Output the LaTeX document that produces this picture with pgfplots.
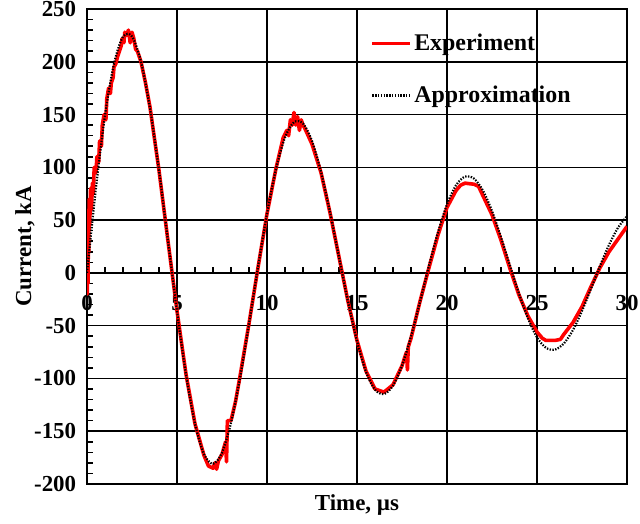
\documentclass[border=0pt]{standalone}
\usepackage{fontspec}
\setmainfont{Liberation Serif}
\usepackage{pgfplots}
\pgfplotsset{compat=1.18}
\begin{document}
\fontsize{23}{27}\selectfont\bfseries
\begin{tikzpicture}
\begin{axis}[
  name=main,
  scale only axis, width=540bp, height=475bp,
  xmin=0, xmax=30, ymin=-200, ymax=250,
  xtick={0,5,...,30}, xticklabels={},
  ytick={-200,-150,-100,-50,0,50,100,150,200,250},
  yticklabels={-200,-150,-100,-50,0,50,100,150,200,250},
  major tick length=0pt,
  xmajorgrids=true, ymajorgrids=true,
  major grid style={black, line width=1.5bp},
  axis line style={black, line width=2bp},
  every tick label/.append style={font=\fontsize{23}{27}\selectfont\bfseries},
  yticklabel style={xshift=-3bp},
  /pgf/number format/assume math mode=true,
  xlabel={Time, µs}, ylabel={Current, kA},
  xlabel style={at={(axis description cs:0.5,-0.044)}, anchor=center, font=\fontsize{23}{27}\selectfont\bfseries},
  ylabel style={at={(axis description cs:-0.115,0.5)}, anchor=center, font=\fontsize{23}{27}\selectfont\bfseries},
]
\end{axis}
\begin{axis}[
  scale only axis, width=540bp, height=475bp,
  xmin=0, xmax=30, ymin=-200, ymax=250,
  axis x line=middle, axis y line=left,
  axis line style={-, black, line width=2.5bp},
  xtick={0,5,...,30}, xticklabels={0,5,10,15,20,25,30},
  ytick={-200,-150,-100,-50,0,50,100,150,200,250}, yticklabels={},
  minor x tick num=4, minor y tick num=4,
  major tick length=0pt, minor tick length=6bp,
  tick align=center,
  minor x tick style={black, line width=1.5bp, yshift=3bp},
  minor y tick style={black, line width=1.5bp, xshift=3bp},
  hide obscured x ticks=false, hide obscured y ticks=false,
  every tick label/.append style={font=\fontsize{23}{27}\selectfont\bfseries},
  xticklabel style={yshift=-15bp},
  legend style={at={(0.525,0.953)}, anchor=north west, draw=none, fill=none,
    font=\fontsize{24}{28}\selectfont\bfseries, row sep=28bp, inner sep=0pt},
  legend cell align=left,
  legend image code/.code={\draw[#1] (0bp,0bp) -- (38bp,0bp);},
  every legend entry/.append style={xshift=2bp},
]
\addplot[red, line width=3.6bp, line join=round] coordinates {
(0,0) (0.02,-20) (0.04,30) (0.06,-10) (0.08,60) (0.1,20) (0.12,70) (0.15,45)
(0.2,80) (0.25,60) (0.3,85) (0.35,75) (0.4,100) (0.5,95) (0.55,110) (0.65,105)
(0.7,125) (0.8,120) (0.85,140) (0.95,150) (1.05,145) (1.1,165) (1.2,175) (1.3,170)
(1.35,180) (1.45,185) (1.5,195) (1.6,198) (1.7,205) (1.8,210) (1.9,215) (1.95,222)
(2.05,218) (2.1,228) (2.2,225) (2.3,230) (2.4,218) (2.5,228) (2.6,222) (2.7,212)
(2.8,210) (2.9,205) (3.0,200) (3.25,180) (3.5,157) (4.0,97) (4.5,30) (5.0,-36)
(5.5,-96) (6.0,-143) (6.5,-173) (6.75,-183) (7.0,-185) (7.1,-180) (7.2,-186) (7.3,-178)
(7.5,-172) (7.7,-160) (7.75,-179) (7.8,-140) (8.0,-140) (8.25,-122) (8.5,-98) (9.0,-48)
(9.5,5) (10.0,56) (10.5,99) (10.9,128) (11.1,135) (11.2,130) (11.3,145) (11.4,140)
(11.5,152) (11.6,140) (11.7,148) (11.8,135) (11.9,145) (12.0,140) (12.1,137) (12.5,122)
(13.0,95) (13.5,57) (14.0,15) (14.5,-27) (15.0,-64) (15.5,-93) (16.0,-110) (16.5,-113)
(17.0,-106) (17.5,-88) (17.75,-75) (17.8,-92) (17.85,-70) (18.0,-62) (18.5,-27) (19.0,5)
(19.5,36) (20.0,62) (20.5,78) (20.75,83) (21.0,85) (21.5,84) (21.75,82) (22.0,73)
(22.5,55) (23.0,31) (23.5,4) (24.0,-21) (24.5,-41) (25.0,-56) (25.3,-62) (25.5,-64)
(26.0,-64) (26.3,-63) (26.5,-58) (27.0,-47) (27.5,-32) (28.0,-13) (28.5,5) (29.0,20)
(29.5,32) (30.0,44)
};
\addlegendentry{Experiment}
\addplot[black, line width=2.2bp, dash pattern=on 1.4bp off 1.4bp, smooth] coordinates {
(0,0) (0.5,80.8) (1.0,149.1) (1.5,198.2) (2.0,223.7) (2.5,224.0) (3.0,200.1) (3.5,155.9)
(4.0,97.1) (4.5,30.3) (5.0,-36.4) (5.5,-96.2) (6.0,-143.1) (6.5,-171.6) (7.0,-180.9) (7.5,-170.4)
(8.0,-142.0) (8.5,-99.6) (9.0,-48.3) (9.5,5.5) (10.0,55.9) (10.5,98.4) (11.0,128.3) (11.5,142.8)
(12.0,141.5) (12.5,125.0) (13.0,95.7) (13.5,57.5) (14.0,15.0) (14.5,-27.2) (15.0,-64.6) (15.5,-93.8)
(16.0,-110.6) (16.5,-114.8) (17.0,-106.8) (17.5,-88.0) (18.0,-60.2) (18.5,-27.4) (19.0,6.9) (19.5,38.5)
(20.0,64.9) (20.5,83.0) (21.0,91.2) (21.5,89.3) (22.0,77.9) (22.5,58.6) (23.0,33.8) (23.5,6.8)
(24.0,-19.7) (24.5,-43.1) (25.0,-61.1) (25.5,-71.0) (26.0,-72.7) (26.5,-66.7) (27.0,-54.1) (27.5,-36.1)
(28.0,-15.0) (28.5,6.6) (29.0,26.5) (29.5,42.8) (30.0,53.6)
};
\addlegendentry{Approximation}
\end{axis}
\pgfresetboundingbox
\path ([shift={(-87bp,-40bp)}]main.south west) rectangle ([shift={(13bp,9bp)}]main.north east);
\end{tikzpicture}
\end{document}
